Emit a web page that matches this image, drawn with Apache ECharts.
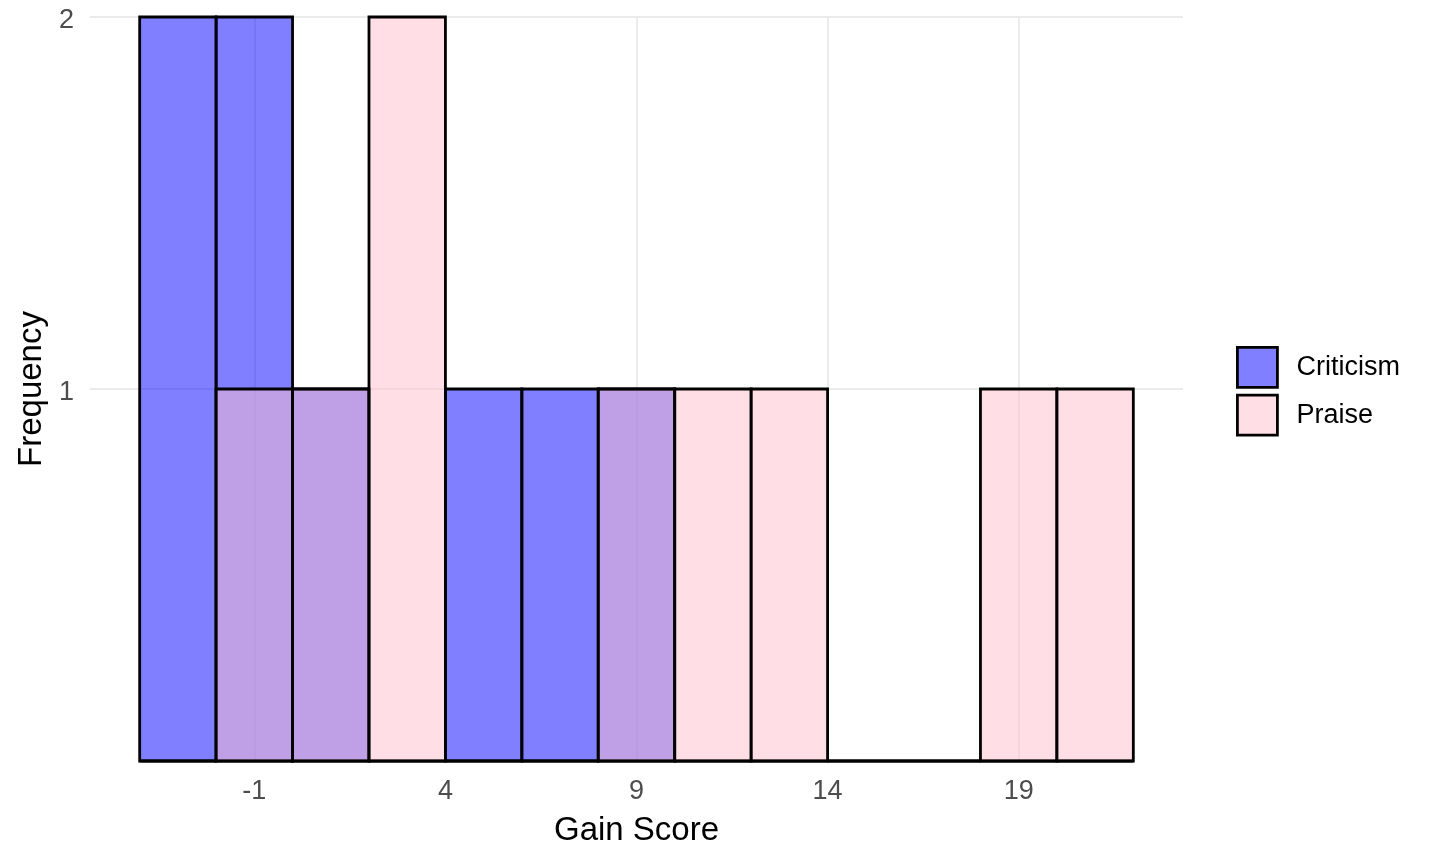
<!DOCTYPE html>
<html>
<head>
<meta charset="utf-8">
<script src="https://cdn.jsdelivr.net/npm/echarts@6/dist/echarts.min.js"></script>
<style>html,body{margin:0;padding:0;background:#fff;}#chart{width:1440px;height:864px;}</style>
</head>
<body>
<div id="chart"></div>
<script>
// Histogram bins (start of each bin; bin width 2)
const binStarts = [-4, -2, 0, 2, 4, 6, 8, 10, 12, 14, 16, 18, 20];
const binWidth = 2;
const criticismCounts = [2, 2, 1, 0, 1, 1, 1, 0, 0, 0, 0, 0, 0];
const praiseCounts    = [0, 1, 1, 2, 0, 0, 1, 1, 1, 0, 0, 1, 1];
const xTickValues = [-1, 4, 9, 14, 19];
const yTickValues = [1, 2];
const seriesNames = ['Criticism', 'Praise'];
const fills = ['rgba(0,0,255,0.5)', 'rgba(255,192,203,0.5)'];

const FONT = '"Liberation Sans", Arial, sans-serif';

function makeData(counts) {
  return binStarts.map((s, i) => [s, s + binWidth, counts[i]]);
}

function renderBar(fill) {
  return function (params, api) {
    const x0 = api.value(0), x1 = api.value(1), c = api.value(2);
    const p0 = api.coord([x0, 0]);
    const p1 = api.coord([x1, c]);
    return {
      type: 'rect',
      shape: { x: p0[0], y: p1[1], width: p1[0] - p0[0], height: p0[1] - p1[1] },
      style: { fill: fill, stroke: '#000', lineWidth: 2.8 }
    };
  };
}

const chart = echarts.init(document.getElementById('chart'), null, { renderer: 'canvas' });
chart.setOption({
  animation: false,
  backgroundColor: '#fff',
  textStyle: { fontFamily: FONT },
  grid: { left: 90, right: 257, top: 17, bottom: 103, containLabel: false },
  legend: {
    orient: 'vertical',
    left: 1231,
    top: 341,
    itemWidth: 40,
    itemHeight: 40,
    itemGap: 5,
    selectedMode: false,
    textStyle: { fontFamily: FONT, fontSize: 27, color: '#000', padding: [0, 0, 0, 14] },
    data: seriesNames.map((n, i) => ({
      name: n,
      icon: 'rect',
      itemStyle: { color: fills[i], borderColor: '#000', borderWidth: 2.8 }
    }))
  },
  xAxis: {
    type: 'value',
    min: -5.3,
    max: 23.3,
    name: 'Gain Score',
    nameLocation: 'middle',
    nameGap: 53,
    nameTextStyle: { fontFamily: FONT, fontSize: 33, color: '#000' },
    axisLine: { show: false },
    axisTick: { show: false, customValues: xTickValues },
    axisLabel: { customValues: xTickValues, fontFamily: FONT, fontSize: 27, color: '#4D4D4D', margin: 17 },
    splitLine: { show: true, lineStyle: { color: '#EBEBEB', width: 2 } }
  },
  yAxis: {
    type: 'value',
    min: 0,
    max: 2,
    name: 'Frequency',
    nameLocation: 'middle',
    nameGap: 40,
    nameRotate: 90,
    nameTextStyle: { fontFamily: FONT, fontSize: 33, color: '#000' },
    axisLine: { show: false },
    axisTick: { show: false, customValues: yTickValues },
    axisLabel: {
      customValues: yTickValues, margin: 16,
      formatter: '{a|{value}}',
      rich: { a: { fontFamily: FONT, fontSize: 27, color: '#4D4D4D', padding: [8, 0, 0, 0] } }
    },
    splitLine: { show: true, lineStyle: { color: '#EBEBEB', width: 2 } }
  },
  series: seriesNames.map((n, i) => ({
    name: n,
    type: 'custom',
    renderItem: renderBar(fills[i]),
    itemStyle: { color: fills[i], borderColor: '#000', borderWidth: 2.8 },
    encode: { x: [0, 1], y: 2 },
    data: makeData(i === 0 ? criticismCounts : praiseCounts),
    z: 2 + i
  }))
});
</script>
</body>
</html>
